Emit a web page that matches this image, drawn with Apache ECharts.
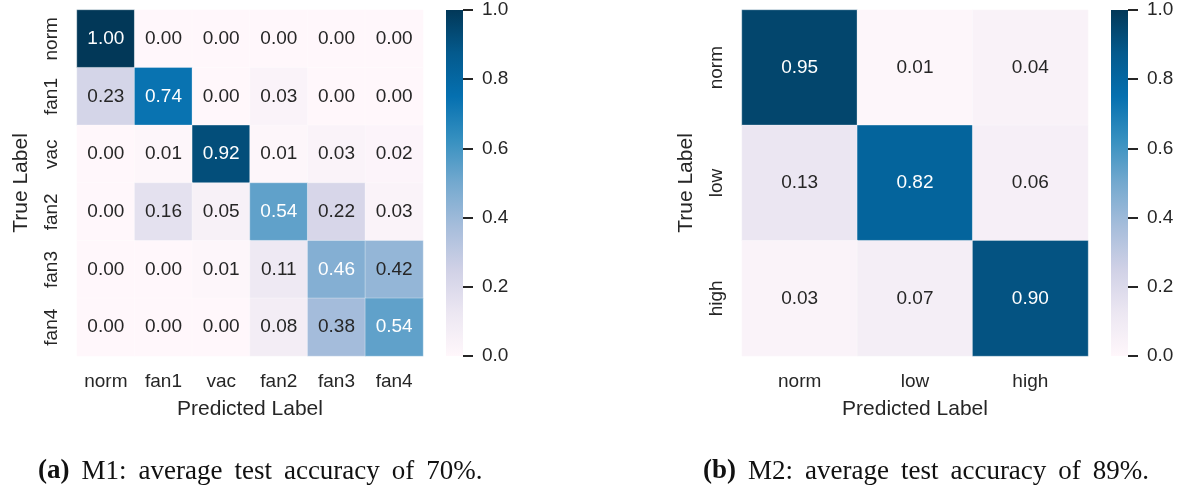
<!DOCTYPE html>
<html>
<head>
<meta charset="utf-8">
<title>Confusion matrices</title>
<script src="https://cdn.jsdelivr.net/npm/echarts@6/dist/echarts.min.js"></script>
<style>
  html, body { margin: 0; padding: 0; background: #ffffff; }
  #chart { width: 1187px; height: 492px; }
</style>
</head>
<body>
<div id="chart"></div>
<script>
// Class names for each model
const m1Classes = ['norm', 'fan1', 'vac', 'fan2', 'fan3', 'fan4'];
const m2Classes = ['norm', 'low', 'high'];

// Row-normalised confusion matrices, rows = true label, columns = predicted label
const m1Matrix = [
  [1.00, 0.00, 0.00, 0.00, 0.00, 0.00],
  [0.23, 0.74, 0.00, 0.03, 0.00, 0.00],
  [0.00, 0.01, 0.92, 0.01, 0.03, 0.02],
  [0.00, 0.16, 0.05, 0.54, 0.22, 0.03],
  [0.00, 0.00, 0.01, 0.11, 0.46, 0.42],
  [0.00, 0.00, 0.00, 0.08, 0.38, 0.54]
];
const m2Matrix = [
  [0.95, 0.01, 0.04],
  [0.13, 0.82, 0.06],
  [0.03, 0.07, 0.90]
];

// Colour bar range and ticks
const colorbarMin = 0;
const colorbarMax = 1;
const colorbarStep = 0.2;

// Captions: bold tag + description
const captionA = ['(a)', 'M1: average test accuracy of 70%.'];
const captionB = ['(b)', 'M2: average test accuracy of 89%.'];

// PuBu colour ramp
const PUBU = ['#fff7fb', '#ece7f2', '#d0d1e6', '#a6bddb', '#74a9cf', '#3690c0', '#0570b0', '#045a8d', '#023858'];
const TEXT = '#262626';
const SANS = '"Liberation Sans", Arial, sans-serif';
const SERIF = '"Liberation Serif", "DejaVu Serif", serif';

function cells(matrix) {
  const out = [];
  matrix.forEach((row, r) => {
    row.forEach((v, c) => {
      out.push({
        value: [c, r, v],
        label: { color: v >= 0.44 ? '#ffffff' : TEXT }
      });
    });
  });
  return out;
}

function heatAxes(classes, idx) {
  return {
    x: {
      type: 'category', gridIndex: idx, data: classes, position: 'bottom',
      axisLine: { show: false }, axisTick: { show: false }, splitLine: { show: false },
      axisLabel: { color: TEXT, fontSize: 19, fontFamily: SANS, margin: 16 },
      name: 'Predicted Label', nameLocation: 'middle', nameGap: 43,
      nameTextStyle: { color: TEXT, fontSize: 21, fontFamily: SANS }
    },
    y: {
      type: 'category', gridIndex: idx, data: classes, inverse: true,
      axisLine: { show: false }, axisTick: { show: false }, splitLine: { show: false },
      axisLabel: { color: TEXT, fontSize: 19, fontFamily: SANS, rotate: 90, margin: 16 },
      name: 'True Label', nameLocation: 'middle', nameGap: 45, nameRotate: 90,
      nameTextStyle: { color: TEXT, fontSize: 21, fontFamily: SANS }
    }
  };
}

function cbarAxes(idx) {
  return {
    x: { type: 'category', gridIndex: idx, data: [''], show: false },
    y: {
      type: 'value', gridIndex: idx, position: 'right',
      min: colorbarMin, max: colorbarMax, interval: colorbarStep,
      axisLine: { show: false }, splitLine: { show: false },
      axisTick: { show: true, length: 10, lineStyle: { color: TEXT, width: 2 } },
      axisLabel: { color: TEXT, fontSize: 19, fontFamily: SANS, margin: 19,
        formatter: v => v.toFixed(1) }
    }
  };
}

// Caption as rich text; word gaps widened to suit the wide TeX-style setting
function caption(parts) {
  const words = parts[1].split(' ').map(w => '{n|' + w + '}');
  return '{b|' + parts[0] + '}{s| }' + words.join('{s| }');
}
const captionRich = {
  b: { fontWeight: 'bold', fontFamily: SERIF, fontSize: 27, fill: '#111', lineHeight: 30 },
  n: { fontFamily: SERIF, fontSize: 27, fill: '#111', lineHeight: 30 },
  s: { fontFamily: SERIF, fontSize: 27, width: 12, lineHeight: 30 }
};

const a1 = heatAxes(m1Classes, 0);
const a2 = heatAxes(m2Classes, 1);
const c1 = cbarAxes(2);
const c2 = cbarAxes(3);

const gradient = new echarts.graphic.LinearGradient(0, 1, 0, 0,
  PUBU.map((c, i) => ({ offset: i / (PUBU.length - 1), color: c })));

const heatLabel = {
  show: true, fontSize: 19, fontFamily: SANS,
  formatter: p => p.value[2].toFixed(2)
};

const chart = echarts.init(document.getElementById('chart'), null, { renderer: 'canvas' });
chart.setOption({
  backgroundColor: '#ffffff',
  animation: false,
  grid: [
    { left: 77, top: 10, width: 346, height: 346 },
    { left: 742, top: 10, width: 346, height: 346 },
    { left: 446, top: 10, width: 17, height: 346 },
    { left: 1111, top: 10, width: 17, height: 346 }
  ],
  xAxis: [a1.x, a2.x, c1.x, c2.x],
  yAxis: [a1.y, a2.y, c1.y, c2.y],
  visualMap: [
    { type: 'continuous', show: false, seriesIndex: [0, 1], dimension: 2,
      min: colorbarMin, max: colorbarMax, inRange: { color: PUBU } }
  ],
  series: [
    { type: 'heatmap', xAxisIndex: 0, yAxisIndex: 0, data: cells(m1Matrix),
      label: heatLabel, itemStyle: { borderWidth: 0.6, borderColor: 'rgba(255,255,255,0.55)' } },
    { type: 'heatmap', xAxisIndex: 1, yAxisIndex: 1, data: cells(m2Matrix),
      label: heatLabel, itemStyle: { borderWidth: 0.6, borderColor: 'rgba(255,255,255,0.55)' } },
    { type: 'bar', xAxisIndex: 2, yAxisIndex: 2, data: [colorbarMax], barWidth: '100%',
      itemStyle: { color: gradient }, silent: true },
    { type: 'bar', xAxisIndex: 3, yAxisIndex: 3, data: [colorbarMax], barWidth: '100%',
      itemStyle: { color: gradient }, silent: true }
  ],
  graphic: [
    { type: 'text', left: 38, top: 458, style: { rich: captionRich, text: caption(captionA) } },
    { type: 'text', left: 703, top: 458, style: { rich: captionRich, text: caption(captionB) } }
  ]
});
</script>
</body>
</html>
